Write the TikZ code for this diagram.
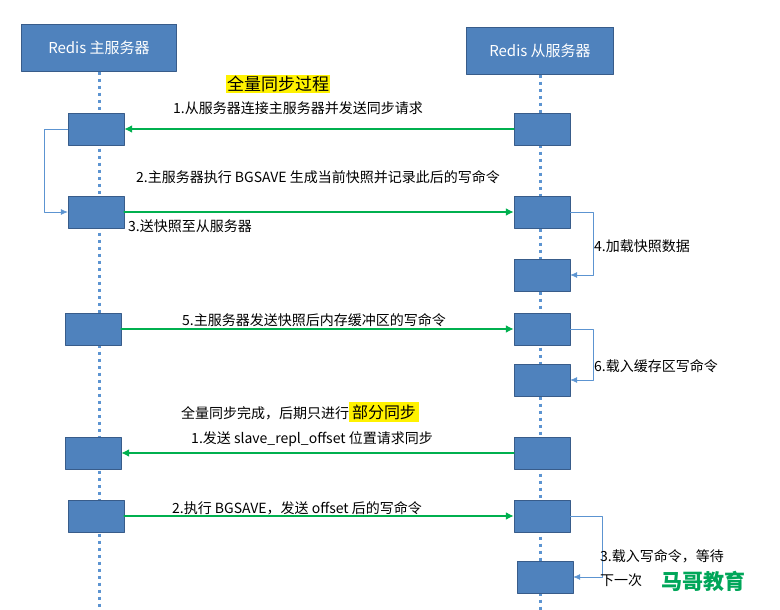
\documentclass[tikz,border=0pt]{standalone}
\usepackage{fontspec}
\setmainfont{Noto Sans CJK SC}
\usetikzlibrary{arrows.meta,positioning}
\definecolor{boxblue}{rgb}{0.31,0.51,0.74}
\definecolor{edgeblue}{rgb}{0.22,0.36,0.54}
\definecolor{msggreen}{rgb}{0.0,0.69,0.31}
\definecolor{lineblue}{rgb}{0.36,0.58,0.82}
\begin{document}
\begin{tikzpicture}[x=1pt,y=-1pt,line cap=round,line join=round,
  head/.style={draw=edgeblue,fill=boxblue,text=white,minimum width=155pt,minimum height=47pt,font=\fontsize{15}{17}\selectfont},
  act/.style={draw=edgeblue,fill=boxblue,minimum width=56pt,minimum height=32pt,inner sep=0pt},
  msg/.style={msggreen,line width=1.8pt,-{Latex[length=8pt,width=8pt]}},
  loop/.style={lineblue,line width=0.7pt,-{Latex[length=7pt,width=6pt]}},
  life/.style={lineblue,line width=3pt,dash pattern=on 3pt off 4pt,line cap=butt},
  lbl/.style={font=\fontsize{14}{16}\selectfont,inner sep=1pt}]
\useasboundingbox (0,0) rectangle (780,610);
\node[head] (mhead) at (99,48) {Redis 主服务器};
\node[head,minimum width=147pt] (shead) at (540,51) {Redis 从服务器};
\coordinate (mend) at (99,610);
\coordinate (send) at (540,610);
\draw[life] (mhead.south) -- (mend);
\draw[life] (shead.south) -- (send);
% master side
\node[act] (m1) at (96,129) {};
\node[act] (m2) at (96,212) {};
\node[act] (m3) at (93,329) {};
\node[act] (m4) at (93,453) {};
\node[act] (m5) at (96,516) {};
% slave side
\node[act] (s1) at (542,129) {};
\node[act] (s2) at (542,212) {};
\node[act] (s3) at (542,275) {};
\node[act] (s4) at (542,329) {};
\node[act] (s5) at (542,380) {};
\node[act] (s6) at (542,453) {};
\node[act] (s7) at (542,516) {};
\node[act] (s8) at (545,577) {};
% full sync
\node[lbl,fill=yellow,font=\fontsize{17}{19}\selectfont] (title) at (278,84) {全量同步过程};
\node[lbl] (t1) at (298,108) {1.从服务器连接主服务器并发送同步请求};
\draw[msg] (s1.west) -- (m1.east);
\draw[loop] (m1.west) -- ++(-23,0) |- (m2.west);
\node[lbl] (t2) at (318,177) {2.主服务器执行 BGSAVE 生成当前快照并记录此后的写命令};
\draw[msg] (m2.east) -- (s2.west);
\node[lbl,anchor=west] (t3) at (127,226) {3.送快照至从服务器};
\draw[loop] (s2.east) -- ++(23,0) |- (s3.east);
\node[lbl,anchor=west] (t4) at (593,246) {4.加载快照数据};
\node[lbl] (t5) at (314,320) {5.主服务器发送快照后内存缓冲区的写命令};
\draw[msg] (m3.east) -- (s4.west);
\draw[loop] (s4.east) -- ++(23,0) |- (s5.east);
\node[lbl,anchor=west] (t6) at (593,366) {6.载入缓存区写命令};
% partial sync
\node[lbl] (t7) at (300,412) {全量同步完成，后期只进行\colorbox{yellow}{\fontsize{16}{18}\selectfont 部分同步}};
\node[lbl] (t8) at (312,439) {1.发送 slave\_repl\_offset 位置请求同步};
\draw[msg] (s6.west) -- (m4.east);
\node[lbl] (t9) at (297,508) {2.执行 BGSAVE，发送 offset 后的写命令};
\draw[msg] (m5.east) -- (s7.west);
\draw[loop] (s7.east) -- ++(32,0) |- (s8.east);
\node[lbl,anchor=west] (t10) at (599,556) {3.载入写命令，等待};
\node[lbl,anchor=west] (t11) at (599,580) {下一次};
\node[font=\bfseries\fontsize{21}{23}\selectfont,text=msggreen!80!teal,anchor=west] (wm) at (658,581) {马哥教育};
\end{tikzpicture}
\end{document}
